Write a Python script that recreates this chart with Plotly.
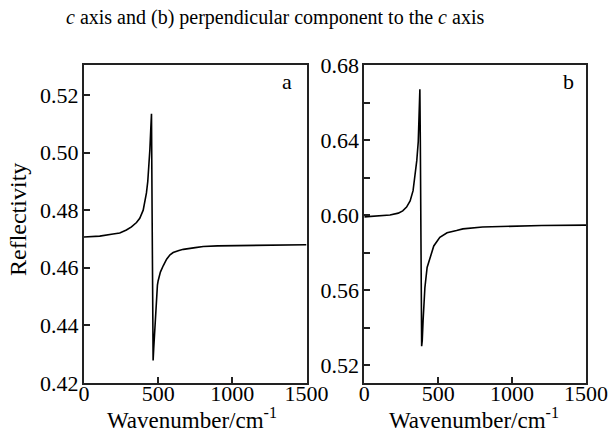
import plotly.graph_objects as go

# Panel a (parallel to c axis)
wn_a = [0, 106, 196, 241, 286, 320, 354, 376, 399, 412, 421, 430, 438, 444, 450,
        455, 459, 462, 466, 470, 474, 478, 483, 489, 495, 500, 515, 534, 557, 580,
        601, 640, 670, 750, 804, 900, 1000, 1120, 1300, 1500]
refl_a = [0.4707, 0.4710, 0.4717, 0.4721, 0.4731, 0.4742, 0.4757, 0.4772, 0.4800,
          0.4830, 0.4860, 0.4900, 0.4950, 0.5010, 0.5080, 0.5135, 0.4800, 0.4500,
          0.4278, 0.4320, 0.4360, 0.4400, 0.4460, 0.4512, 0.4540, 0.4555, 0.4585,
          0.4607, 0.4630, 0.4645, 0.4653, 0.4660, 0.4664, 0.4670, 0.4674, 0.4676,
          0.4677, 0.4677, 0.4678, 0.4680]

# Panel b (perpendicular to c axis)
wn_b = [0, 60, 120, 174, 230, 260, 286, 310, 330, 343, 355, 365, 371, 376, 379,
        383, 386, 388, 392, 398, 404, 410, 425, 444, 470, 511, 560, 624, 667, 800,
        1005, 1200, 1500]
refl_b = [0.5990, 0.5993, 0.5996, 0.6000, 0.6010, 0.6022, 0.6042, 0.6075, 0.6130,
          0.6200, 0.6290, 0.6390, 0.6500, 0.6670, 0.6400, 0.5900, 0.5500, 0.5300,
          0.5330, 0.5440, 0.5540, 0.5613, 0.5720, 0.5774, 0.5835, 0.5881, 0.5905,
          0.5917, 0.5926, 0.5936, 0.5941, 0.5944, 0.5946]

x_ticks = [0, 500, 1000, 1500]
ya_ticks = [0.42, 0.44, 0.46, 0.48, 0.50, 0.52]
yb_ticks = [0.52, 0.56, 0.60, 0.64, 0.68]

FONT = "Liberation Serif"
W, H = 609, 435

fig = go.Figure()
fig.add_trace(go.Scatter(x=wn_a, y=refl_a, mode="lines", xaxis="x", yaxis="y",
                         line=dict(color="black", width=1.6), showlegend=False))
fig.add_trace(go.Scatter(x=wn_b, y=refl_b, mode="lines", xaxis="x2", yaxis="y2",
                         line=dict(color="black", width=1.6), showlegend=False))

axis_common = dict(showline=True, mirror=True, linecolor="#222", linewidth=2,
                   ticks="inside", ticklen=6, tickwidth=1.5, tickcolor="#222",
                   showgrid=False, zeroline=False, automargin=False,
                   tickfont=dict(family=FONT, size=22, color="black"))

ydom = [1 - 383 / H, 1 - 65 / H]
fig.update_layout(
    width=W, height=H,
    margin=dict(l=0, r=0, t=0, b=0, autoexpand=False),
    paper_bgcolor="white", plot_bgcolor="white",
    xaxis=dict(domain=[84 / W, 306.5 / W], range=[0, 1500], tickvals=x_ticks,
               ticktext=[str(v) for v in x_ticks], anchor="y",
               ticklabelstandoff=-10, **axis_common),
    yaxis=dict(domain=ydom, range=[0.42, 0.5304], tickvals=ya_ticks,
               ticktext=[f"{v:.2f}" for v in ya_ticks], anchor="x",
               ticklabelstandoff=-1, **axis_common),
    xaxis2=dict(domain=[364.3 / W, 586 / W], range=[0, 1500], tickvals=x_ticks,
                ticktext=[str(v) for v in x_ticks], anchor="y2",
                ticklabelstandoff=-10, **axis_common),
    yaxis2=dict(domain=ydom, range=[0.5104, 0.68], tickvals=yb_ticks,
                ticktext=[f"{v:.2f}" for v in yb_ticks], anchor="x2",
                ticklabelstandoff=-1,
                minor=dict(dtick=0.02, tick0=0.52, ticks="inside", ticklen=6,
                           tickwidth=1.5, tickcolor="#222"),
                **axis_common),
)

def ann(text, x, y, size, angle=0):
    fig.add_annotation(text=text, xref="paper", yref="paper", x=x / W, y=1 - y / H,
                       xanchor="center", yanchor="middle", showarrow=False,
                       textangle=angle, font=dict(family=FONT, size=size, color="black"))

ann("<i>c</i> axis and (b) perpendicular component to the <i>c</i> axis", 275, 18, 20)
ann("Wavenumber/cm<sup>-1</sup>", 192, 418, 23)
ann("Wavenumber/cm<sup>-1</sup>", 474, 418, 23)
ann("Reflectivity", 18, 220, 24, -90)
ann("a", 287, 82, 22)
ann("b", 568, 82, 22)

fig.write_html("out.html", config={"displayModeBar": False},
               post_script="document.body.style.margin='0';")
